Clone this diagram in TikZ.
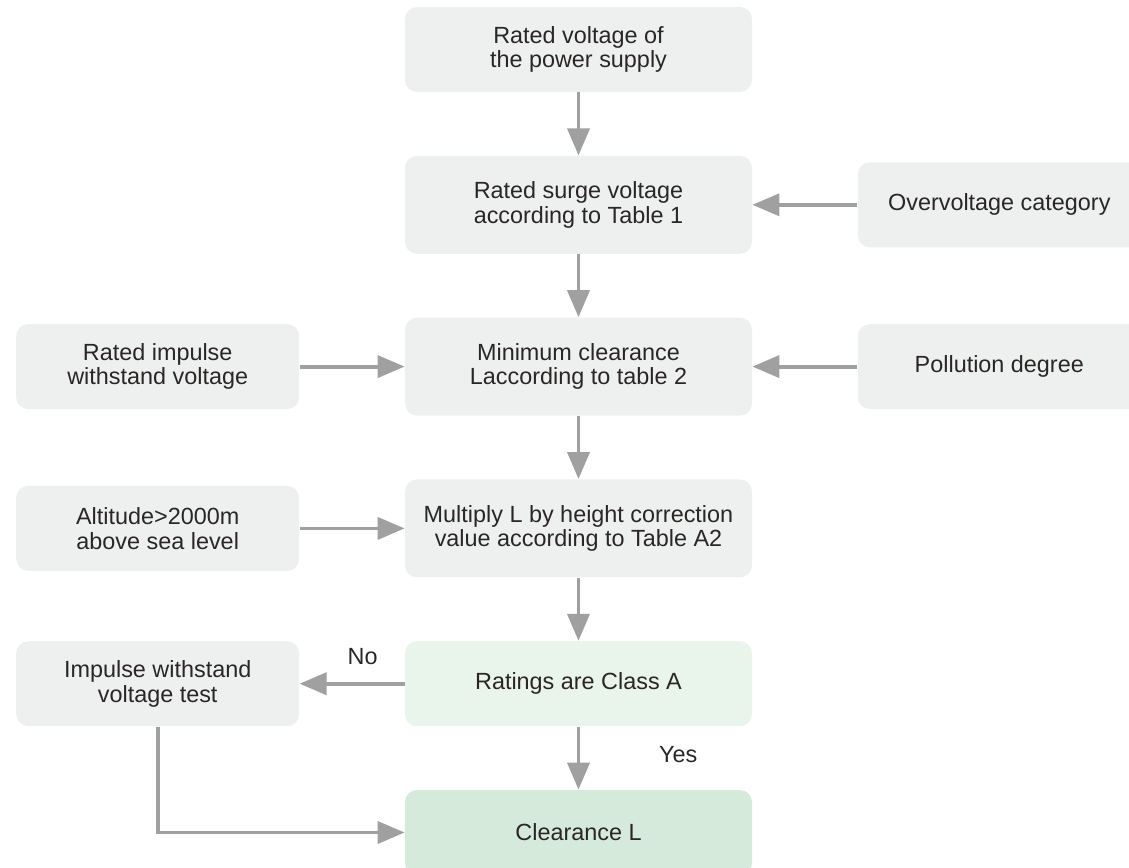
\documentclass[tikz,border=0pt]{standalone}
\usepackage{fontspec}
\setmainfont{Liberation Sans}
\usetikzlibrary{positioning, arrows.meta}

\definecolor{boxgray}{HTML}{EEF0EF}
\definecolor{lightgreen}{HTML}{E9F4EA}
\definecolor{midgreen}{HTML}{D5EADB}
\definecolor{arrowgray}{HTML}{A0A0A0}
\definecolor{textdark}{HTML}{2A2626}

\begin{document}
\begin{tikzpicture}[
    font=\fontsize{11.7}{12.3}\selectfont, text=textdark,
    box/.style={rectangle, rounded corners=6pt, minimum width=173.5pt, minimum height=42.5pt, inner sep=0pt, text centered, align=center, fill=boxgray},
    tallbox/.style={box, minimum height=49pt},
    sidebox/.style={box, minimum width=141.5pt},
    arrow/.style={line width=1.9pt, draw=arrowgray, -{Triangle[length=13.5pt,width=11pt]}}
]
\useasboundingbox (-289.25pt,24.75pt) rectangle (275.25pt,-408.75pt);

% Main column
\node (supply) [box] at (0,0) {Rated voltage of\\the power supply};
\node (surge) [tallbox, below=31.5pt of supply] {Rated surge voltage\\according to Table 1};
\node (minclear) [tallbox, below=31.5pt of surge] {Minimum clearance\\Laccording to table 2};
\node (multiply) [tallbox, below=31.5pt of minclear] {Multiply L by height correction\\value according to Table A2};
\node (classa) [box, fill=lightgreen, below=31.5pt of multiply] {Ratings are Class A};
\node (clear) [box, fill=midgreen, below=31.5pt of classa] {Clearance L};

\draw [arrow] (supply) -- (surge);
\draw [arrow] (surge) -- (minclear);
\draw [arrow] (minclear) -- (multiply);
\draw [arrow] (multiply) -- (classa);
\draw [arrow] (classa) -- node[right, xshift=36pt, pos=0.45] {Yes} (clear);

% Inputs on the right
\node (overvolt) [sidebox, right=52.5pt of surge] {Overvoltage category};
\node (pollution) [sidebox, right=52.5pt of minclear] {Pollution degree};

\draw [arrow] (overvolt) -- (surge);
\draw [arrow] (pollution) -- (minclear);

% Inputs on the left
\node (impulse) [sidebox, left=52.5pt of minclear] {Rated impulse\\withstand voltage};
\node (altitude) [sidebox, left=52.5pt of multiply] {Altitude>2000m\\above sea level};
\node (test) [sidebox, left=52.5pt of classa] {Impulse withstand\\voltage test};

\draw [arrow] (impulse) -- (minclear);
\draw [arrow] (altitude) -- (multiply);
\draw [arrow] (classa) -- node[above=5pt, pos=0.4] {No} (test);
\draw [arrow] (test) |- (clear);

\end{tikzpicture}
\end{document}
